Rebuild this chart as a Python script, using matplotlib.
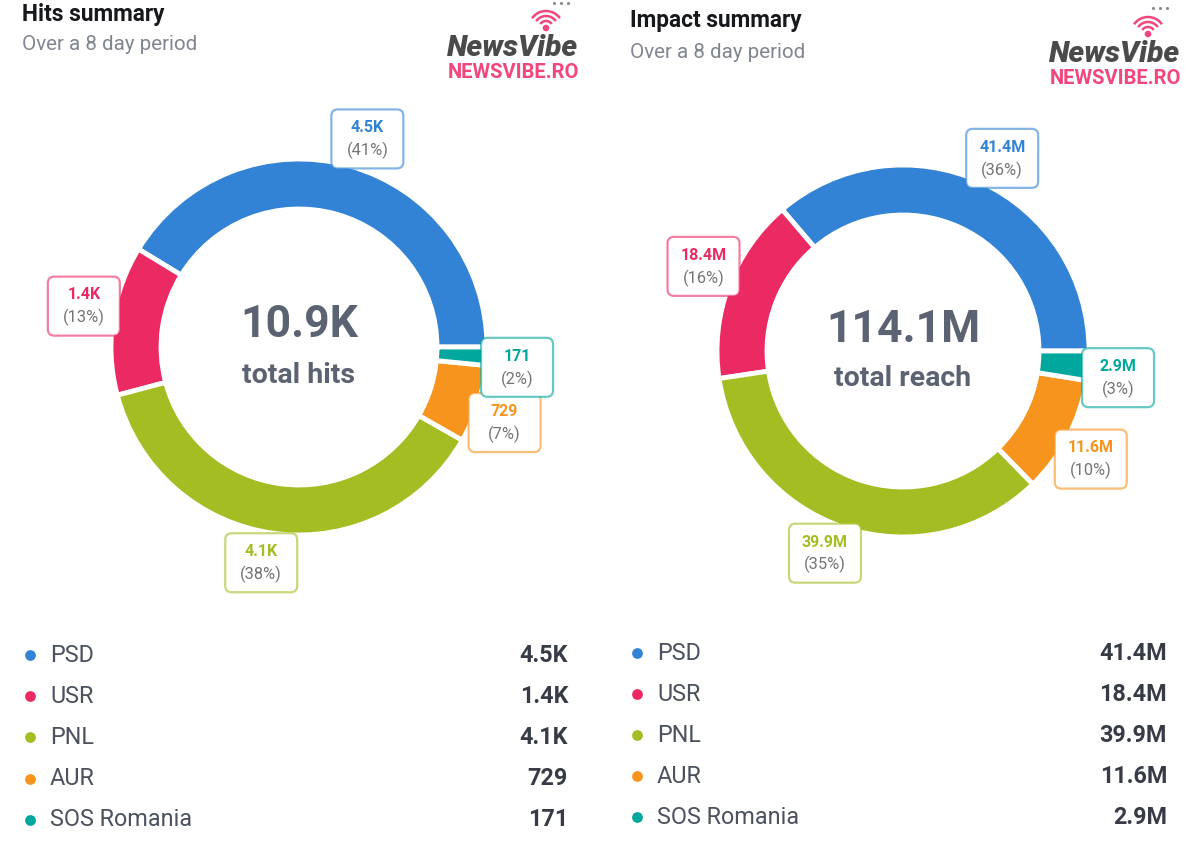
import matplotlib
matplotlib.use("Agg")
import matplotlib.pyplot as plt
from matplotlib.patches import FancyBboxPatch, Arc, Circle
import numpy as np

plt.rcParams['font.family'] = ['Roboto', 'DejaVu Sans']

# ---------------- data ----------------
parties = ["PSD", "USR", "PNL", "AUR", "SOS Romania"]
colors = ["#3283d5", "#eb2a63", "#a3bd22", "#f7941e", "#00a79c"]

hits_values = [4500, 1400, 4100, 729, 171]
hits_labels = ["4.5K", "1.4K", "4.1K", "729", "171"]
hits_total_label = "10.9K"
hits_center_text = "total hits"
hits_title = "Hits summary"

reach_values = [41.4, 18.4, 39.9, 11.6, 2.9]
reach_labels = ["41.4M", "18.4M", "39.9M", "11.6M", "2.9M"]
reach_total_label = "114.1M"
reach_center_text = "total reach"
reach_title = "Impact summary"

subtitle = "Over a 8 day period"

# ---------------- figure ----------------
W, H = 1200, 855
fig = plt.figure(figsize=(W / 100, H / 100), dpi=100)
fig.patch.set_facecolor("white")
bg = fig.add_axes([0, 0, 1, 1])
bg.set_xlim(0, W)
bg.set_ylim(H, 0)
bg.axis("off")

TITLE_C = "#16181c"
SUB_C = "#80868f"
CENTER_C = "#5b6271"
LEG_C = "#4b525e"
VAL_C = "#363b45"
PCT_C = "#747474"


def logo(x, y):
    # NewsVibe logo block; (x, y) = left of "NewsVibe" baseline
    bg.text(x, y, "NewsVibe", fontsize=21.5, fontweight="black", style="italic",
            color="#4a4a4a", ha="left", va="baseline")
    bg.text(x + 1, y + 22, "NEWSVIBE.RO", fontsize=14.5, fontweight="bold",
            color="#f2477d", ha="left", va="baseline")
    cx, cy = x + 99, y - 28
    bg.add_patch(Circle((cx, cy), 2.6, color="#f2477d"))
    for r in (7, 12, 17):
        bg.add_patch(Arc((cx, cy), 2 * r, 2 * r, theta1=-145, theta2=-35,
                         color="#f2477d", lw=1.8))


def panel(x0, cx, cy, R, r_in, values, labels, total_label, center_text,
          title, title_y, legend_x, legend_right, legend_y0, legend_dy, dots_y):
    # header
    bg.text(x0, title_y, title, fontsize=16.3, fontweight="bold",
            color=TITLE_C, ha="left", va="center")
    bg.text(x0, title_y + 31, subtitle, fontsize=14.8, color=SUB_C,
            ha="left", va="center")
    bg.scatter([legend_right - 7 + d for d in (-7, 0, 7)], [dots_y] * 3,
               s=5, color="#8a8a8a", linewidths=0)

    # donut
    half = 270
    ax = fig.add_axes([(cx - half) / W, 1 - (cy + half) / H,
                       2 * half / W, 2 * half / H])
    wedges, _ = ax.pie(values, colors=colors, startangle=0, counterclock=True,
                       radius=1.0,
                       wedgeprops=dict(width=1 - r_in / R, edgecolor="white",
                                       linewidth=3.5))
    L = half / R
    ax.set_xlim(-L, L)
    ax.set_ylim(-L, L)
    ax.set_aspect("equal")
    ax.axis("off")

    total = float(sum(values))
    bw, bh = 72 / R, 59 / R
    for w, lab, v, c in zip(wedges, labels, values, colors):
        th = np.deg2rad((w.theta1 + w.theta2) / 2 - 2.5)
        lx, ly = 1.165 * np.cos(th), 1.165 * np.sin(th)
        box = FancyBboxPatch((lx - bw / 2, ly - bh / 2), bw, bh,
                             boxstyle="round,pad=0,rounding_size=0.035",
                             fc="white", ec=c, lw=1.6, zorder=5,
                             clip_on=False)
        box.set_edgecolor(matplotlib.colors.to_rgba(c, 0.6))
        ax.add_patch(box)
        ax.text(lx, ly + 0.06, lab, ha="center", va="center", fontsize=11.5,
                fontweight="bold", color=c, zorder=6)
        ax.text(lx, ly - 0.062, f"({round(100 * v / total):.0f}%)",
                ha="center", va="center", fontsize=11.8, color=PCT_C, zorder=6)

    ax.text(0, 0.115, total_label, ha="center", va="center", fontsize=32,
            fontweight="bold", color=CENTER_C)
    ax.text(0, -0.15, center_text, ha="center", va="center", fontsize=20.5,
            fontweight="bold", color=CENTER_C)

    # legend
    for i, (p, lab, c) in enumerate(zip(parties, labels, colors)):
        y = legend_y0 + i * legend_dy
        bg.scatter([legend_x], [y], s=60, color=c, zorder=3, linewidths=0)
        bg.text(legend_x + 20, y, p, fontsize=16.8, color=LEG_C,
                ha="left", va="center")
        bg.text(legend_right, y, lab, fontsize=16.8, fontweight="bold",
                color=VAL_C, ha="right", va="center")


panel(22, 299, 347, 188, 138, hits_values, hits_labels, hits_total_label,
      hits_center_text, hits_title, 14, 30, 568, 655, 41.2, 3)
panel(630, 903, 351, 186, 136, reach_values, reach_labels, reach_total_label,
      reach_center_text, reach_title, 21, 637, 1167, 653, 41, 8)

logo(447, 56)
logo(1049, 62)

fig.savefig("out.png", dpi=100, facecolor="white")
